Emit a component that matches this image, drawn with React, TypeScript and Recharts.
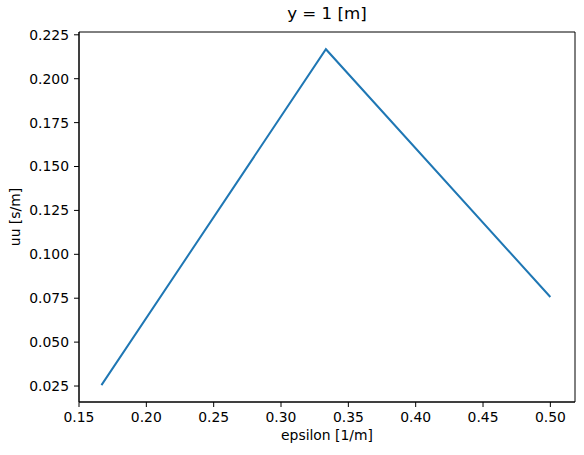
import { LineChart, Line, XAxis, YAxis, ReferenceArea } from 'recharts';

const epsilonValues = [1 / 6, 1 / 3, 0.5];
const uuValues = [0.0255, 0.2168, 0.0757];
const xTicks = [0.15, 0.2, 0.25, 0.3, 0.35, 0.4, 0.45, 0.5];
const yTicks = [0.025, 0.05, 0.075, 0.1, 0.125, 0.15, 0.175, 0.2, 0.225];

const xDomain: [number, number] = [0.15, 0.5183];
const yDomain: [number, number] = [0.0159, 0.2266];

const data = epsilonValues.map((e, i) => ({ epsilon: e, uu: uuValues[i] }));

const font = '"DejaVu Sans", sans-serif';
const tickStyle = { fill: '#000', fontSize: 13.9, fontFamily: font };

export default function App() {
  return (
    <div style={{ position: 'absolute', left: 0, top: 0, width: 584, height: 455, background: '#fff' }}>
      <LineChart width={584} height={455} data={data} margin={{ top: 32, right: 9, bottom: 0, left: 0 }}>
        <XAxis
          dataKey="epsilon"
          type="number"
          domain={xDomain}
          ticks={xTicks}
          allowDataOverflow
          height={53}
          tick={tickStyle}
          tickFormatter={(v) => v.toFixed(2)}
          tickSize={5}
          tickMargin={5}
          stroke="#000"
          tickLine={{ stroke: '#000' }}
        />
        <YAxis
          type="number"
          domain={yDomain}
          ticks={yTicks}
          allowDataOverflow
          width={79}
          tick={tickStyle}
          tickFormatter={(v) => v.toFixed(3)}
          tickSize={5}
          tickMargin={5}
          stroke="#000"
          tickLine={{ stroke: '#000' }}
        />
        {/* frame: top and right spines */}
        <ReferenceArea
          x1={xDomain[0]}
          x2={xDomain[1]}
          y1={yDomain[0]}
          y2={yDomain[1]}
          fill="none"
          fillOpacity={0}
          stroke="#000"
          strokeWidth={1}
          strokeOpacity={1}
          ifOverflow="visible"
        />
        <Line
          dataKey="uu"
          stroke="#1f77b4"
          strokeWidth={2}
          dot={false}
          isAnimationActive={false}
        />
      </LineChart>
      <div style={{ position: 'absolute', left: 79, width: 496, top: 3, textAlign: 'center', fontFamily: font, fontSize: 16.7 }}>
        y = 1 [m]
      </div>
      <div style={{ position: 'absolute', left: 79, width: 496, top: 427, textAlign: 'center', fontFamily: font, fontSize: 13.9 }}>
        epsilon [1/m]
      </div>
      <div
        style={{
          position: 'absolute', left: 15, top: 217, fontFamily: font, fontSize: 13.9,
          transform: 'translate(-50%, -50%) rotate(-90deg)', whiteSpace: 'nowrap',
        }}
      >
        uu [s/m]
      </div>
    </div>
  );
}
